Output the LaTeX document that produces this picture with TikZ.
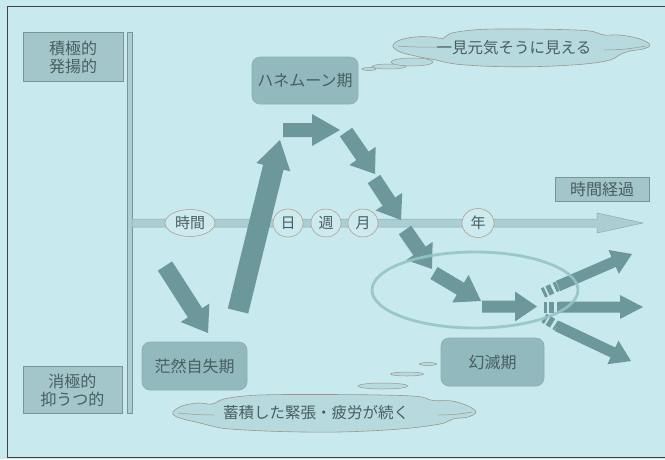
\documentclass[tikz,border=0pt]{standalone}
\usepackage{fontspec}
\newfontfamily\jp{Noto Sans CJK JP}
\usetikzlibrary{calc,shapes.geometric}
\definecolor{bgc}{RGB}{200,233,238}
\definecolor{boxc}{RGB}{163,198,202}
\definecolor{boxd}{RGB}{146,185,189}
\definecolor{boxline}{RGB}{120,150,152}
\definecolor{arrc}{RGB}{108,152,155}
\definecolor{txtc}{RGB}{72,94,96}
\definecolor{barc}{RGB}{170,206,210}
\definecolor{labc}{RGB}{205,234,238}
\definecolor{labline}{RGB}{175,150,130}
\definecolor{cloudc}{RGB}{182,218,222}
\definecolor{ellc}{RGB}{150,196,198}
\newcommand\blockarr[5]{%
  \coordinate (tmpH) at ($(#2)!#5!(#1)$);
  \fill[arrc] ($(#1)!#3!90:(#2)$) -- ($(tmpH)!#3!90:(#2)$) -- ($(tmpH)!#4!90:(#2)$) -- (#2)
    -- ($(tmpH)!#4!-90:(#2)$) -- ($(tmpH)!#3!-90:(#2)$) -- ($(#1)!#3!-90:(#2)$) -- cycle;}
\tikzset{
  every node/.style={font=\jp, text=txtc},
  sqbox/.style={draw=boxline, fill=boxc, line width=0.6pt},
  rbox/.style={draw=boxline!80, fill=boxd, line width=0.6pt, rounded corners=8pt},
  boxtext/.style={font=\jp\fontsize{16}{18}\selectfont, align=center},
  lab/.style={ellipse, draw=labline, fill=labc, line width=0.5pt, inner sep=0pt, font=\jp\fontsize{15}{17}\selectfont},
  cloudline/.style={draw=labline!70!boxline, fill=cloudc, line width=0.6pt},
  wisp/.style={draw=labline!70!boxline, line width=0.5pt},
  cloudtext/.style={font=\jp\fontsize{15.5}{17}\selectfont},
  bub/.style={ellipse, draw=labline!70!boxline, fill=cloudc, line width=0.5pt, inner sep=0pt},
}
\begin{document}
\begin{tikzpicture}[x=1pt,y=-1pt]
\useasboundingbox (0,0) rectangle (665,459);
\fill[bgc] (0,0) rectangle (665,459);
\clip (0,0) rectangle (665,459);
\draw[black!75, line width=0.8pt] (7,6) rectangle (700,457);
% left side boxes
\draw[sqbox] (23,32) rectangle (123,81);
\node[boxtext] (pos) at (73,57) {積極的\\発揚的};
\draw[sqbox] (23,366) rectangle (122,413);
\node[boxtext] (neg) at (72.5,390) {消極的\\抑うつ的};
\draw[draw=boxline, fill=barc, line width=0.5pt] (127,32) rectangle (132,413);
% timeline
\draw[draw=boxline!80, fill=barc, line width=0.5pt] (132,219) -- (597,219) -- (597,213) -- (643,223) -- (597,233) -- (597,227) -- (132,227) -- cycle;
\node[lab, minimum width=50pt, minimum height=27pt] (jikan) at (190,223) {時間};
\node[lab, minimum width=30pt, minimum height=28pt] (hi) at (288,223) {日};
\node[lab, minimum width=30pt, minimum height=28pt] (shu) at (326,223) {週};
\node[lab, minimum width=30pt, minimum height=28pt] (tsuki) at (363,223) {月};
\node[lab, minimum width=32pt, minimum height=29pt] (nen) at (478,223) {年};
\draw[sqbox] (555,177) rectangle (649,201);
\node[boxtext] (keika) at (602,189) {時間経過};
% phase boxes
\draw[rbox] (252,57) rectangle (358,104);
\node[boxtext] (honey) at (305,80.5) {ハネムーン期};
\draw[rbox] (142,342) rectangle (247,390);
\node[boxtext] (bozen) at (194.5,366) {茫然自失期};
\draw[rbox] (441,338) rectangle (544,386);
\node[boxtext] (genmetsu) at (492.5,362) {幻滅期};
% thought bubbles and clouds
\node[bub, minimum width=14pt, minimum height=3pt] (b1) at (369,69) {};
\node[bub, minimum width=34pt, minimum height=5pt] (b2) at (389,66.5) {};
\node[bub, minimum width=42pt, minimum height=8pt] (b3) at (412,62) {};
\path[cloudline] plot[smooth cycle, tension=0.6] coordinates {(393,45) (400,40) (415,37) (432,37) (443,38.5) (452,33) (480,29.5) (520,29) (560,29.5) (590,31) (604,35) (620,35) (640,39) (650,45) (643,49) (630,51) (620,54.5) (610,60) (585,64) (540,66.5) (495,66.5) (460,64.5) (442,61.5) (434,59.5) (420,57) (403,53) (395,49)};
\draw[wisp] (398,46) to[out=-5,in=180] (438,47);
\draw[wisp] (604,50) to[out=0,in=190] (646,46);
\node[cloudtext] (c1) at (514,47.5) {一見元気そうに見える};
\node[bub, minimum width=17pt, minimum height=3pt] (b4) at (428,364) {};
\node[bub, minimum width=33pt, minimum height=4pt] (b5) at (407,374) {};
\node[bub, minimum width=50pt, minimum height=6pt] (b6) at (383,386) {};
\path[cloudline] plot[smooth cycle, tension=0.6] coordinates {(173,412) (182,406) (198,403) (212,404) (226,398.5) (260,395) (320,394.5) (380,395) (418,396.5) (433,400.5) (452,401) (468,406) (476,412) (468,417) (453,419) (440,424) (400,429) (340,432) (280,431.5) (230,429) (214,426.5) (200,423) (183,419) (175,416)};
\draw[wisp] (178,413) to[out=-5,in=180] (214,415);
\draw[wisp] (438,415) to[out=0,in=190] (472,412);
\node[cloudtext] (c2) at (316,413) {蓄積した緊張・疲労が続く};
% block arrows
\coordinate (a1s) at (165,266); \coordinate (a1e) at (208,333);
\blockarr{a1s}{a1e}{8.5pt}{17pt}{24pt}
\coordinate (a2s) at (238,311); \coordinate (a2e) at (280,140);
\blockarr{a2s}{a2e}{10.5pt}{17.5pt}{28pt}
\coordinate (a3s) at (283,130); \coordinate (a3e) at (340,130);
\blockarr{a3s}{a3e}{7pt}{16pt}{28pt}
\coordinate (a4s) at (346,132); \coordinate (a4e) at (375,174);
\blockarr{a4s}{a4e}{7.5pt}{16pt}{22pt}
\coordinate (a5s) at (374,179); \coordinate (a5e) at (401,220);
\blockarr{a5s}{a5e}{7.5pt}{16pt}{22pt}
\coordinate (a6s) at (405,230); \coordinate (a6e) at (432,269);
\blockarr{a6s}{a6e}{7.5pt}{16pt}{22pt}
\coordinate (a7s) at (434,273); \coordinate (a7e) at (481,301);
\blockarr{a7s}{a7e}{7pt}{16pt}{24pt}
\coordinate (a8s) at (482,306.5); \coordinate (a8e) at (537,306.5);
\blockarr{a8s}{a8e}{6pt}{15pt}{22pt}
% dashed tails and three exits
\coordinate (u0) at (543,293); \coordinate (u1) at (558,286); \coordinate (u2) at (632,254);
\draw[arrc, line width=10pt, dash pattern=on 3pt off 2pt on 5pt off 3pt] (u0) -- (u1);
\blockarr{u1}{u2}{5.5pt}{13pt}{20pt}
\coordinate (m0) at (544,307); \coordinate (m1) at (559,307); \coordinate (m2) at (643,307);
\draw[arrc, line width=11pt, dash pattern=on 3pt off 2pt on 5pt off 3pt] (m0) -- (m1);
\blockarr{m1}{m2}{5.5pt}{12pt}{23pt}
\coordinate (l0) at (544,318); \coordinate (l1) at (557,326); \coordinate (l2) at (631,361);
\draw[arrc, line width=10pt, dash pattern=on 3pt off 2pt on 5pt off 3pt] (l0) -- (l1);
\blockarr{l1}{l2}{5.5pt}{13pt}{20pt}
% big ellipse
\draw[ellc, line width=2.8pt, opacity=0.9] (475,290) ellipse [x radius=103, y radius=38];
\end{tikzpicture}
\end{document}
